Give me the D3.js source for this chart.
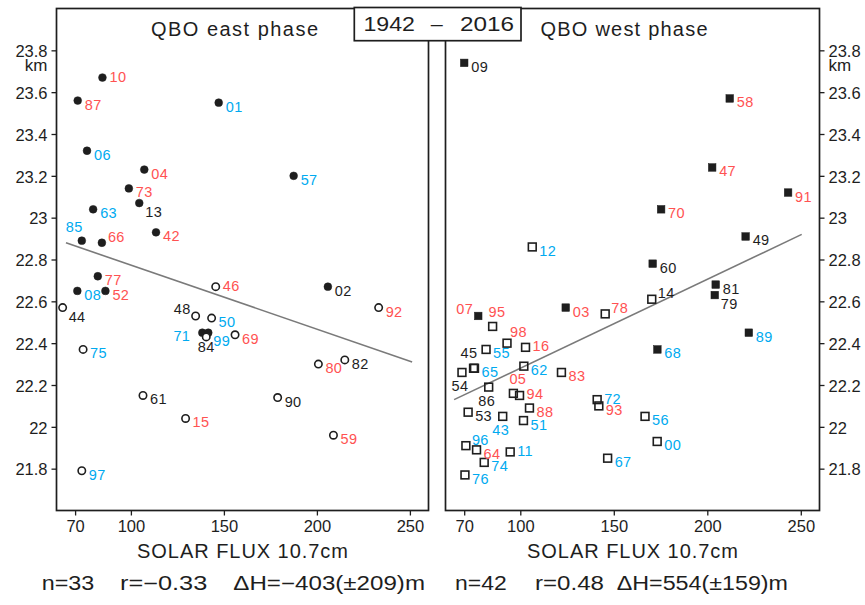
<!DOCTYPE html>
<html><head><meta charset="utf-8">
<script src="https://cdn.jsdelivr.net/npm/d3@7"></script>
<style>
body{margin:0;background:#fff}
svg{display:block;font-family:"Liberation Sans",Arial,Helvetica,sans-serif}
</style>
</head><body>
<svg id="c" width="865" height="605"></svg>
<script>
// ---------- data ----------
const xTicks = [70, 100, 150, 200, 250];
const xTickLabels = ["70", "100", "150", "200", "250"];
const yTicks = [21.8, 22.0, 22.2, 22.4, 22.6, 22.8, 23.0, 23.2, 23.4, 23.6, 23.8];
const yTickLabels = ["21.8", "22", "22.2", "22.4", "22.6", "22.8", "23", "23.2", "23.4", "23.6", "23.8"];

// QBO east phase (circles)
const eastYears  = ["10","87","01","06","04","57","73","13","63","42","85","66","77","08","52","02","71","84",
                    "46","44","92","48","50","99","69","75","80","82","61","15","90","59","97"];
const eastFlux   = [84.7,71.4,147.2,76.4,107.2,187.5,98.9,104.5,79.7,113.5,73.6,84.4,82.2,71.2,86.3,205.9,138.4,141.6,
                    145.6,63.3,233.2,134.8,143.4,140.5,156.0,74.3,200.8,215.0,106.5,129.4,178.9,208.9,73.6];
const eastHeight = [23.67,23.56,23.55,23.32,23.23,23.20,23.14,23.07,23.04,22.93,22.89,22.88,22.72,22.65,22.65,22.67,22.45,22.45,
                    22.67,22.57,22.57,22.53,22.52,22.43,22.44,22.37,22.30,22.32,22.15,22.04,22.14,21.96,21.79];
const eastFilled = [1,1,1,1,1,1,1,1,1,1,1,1,1,1,1,1,1,1,
                    0,0,0,0,0,0,0,0,0,0,0,0,0,0,0];
const eastGroup  = ["r","r","b","b","r","b","r","k","b","r","b","r","r","b","r","k","b","k",
                    "r","k","r","k","b","b","r","b","r","k","k","r","k","r","b"];
const eastPlace  = ["e","se","se","se","se","se","se","sse","se","se","nw","ne","se","se","se","se","sw","s",
                    "e","sse","se","w","se","se","se","se","se","se","se","se","se","se","se"];
const eastFit = [[65.1, 22.88], [251.2, 22.31]];
const eastStats = ["n=33", "r=\u22120.33", "\u0394H=\u2212403(\u00b1209)m"];

// QBO west phase (squares)
const westYears  = ["09","58","47","91","70","49","60","81","79","03","07","89","68",
                    "12","14","78","95","98","55","16","45","65","54","62","83","86","05","94","53","88","43","51","72","93","56","00","96","64","11","74","76","67"];
const westFlux   = [70.0,212.0,202.6,243.2,175.3,220.5,170.8,204.5,204.0,124.3,77.5,222.2,173.3,
                    106.4,170.3,145.4,85.2,92.9,81.7,102.8,75.0,75.5,68.8,101.9,122.0,83.1,96.3,99.6,72.1,104.9,90.6,101.7,141.1,142.0,166.7,173.2,70.9,76.6,94.6,80.7,70.4,146.7];
const westHeight = [23.74,23.57,23.24,23.12,23.04,22.91,22.78,22.68,22.63,22.57,22.53,22.45,22.37,
                    22.86,22.61,22.54,22.48,22.40,22.37,22.38,22.28,22.28,22.26,22.29,22.26,22.19,22.16,22.15,22.07,22.09,22.05,22.03,22.13,22.10,22.05,21.93,21.91,21.89,21.88,21.83,21.77,21.85];
const westFilled = [1,1,1,1,1,1,1,1,1,1,1,1,1,
                    0,0,0,0,0,0,0,0,0,0,0,0,0,0,0,0,0,0,0,0,0,0,0,0,0,0,0,0,0];
const westGroup  = ["k","r","r","r","r","k","k","k","k","r","r","b","b",
                    "b","k","r","r","r","b","r","k","b","k","b","r","k","r","r","k","r","b","b","b","r","b","b","b","r","b","b","b","b"];
const westPlace  = ["se","se","se","se","se","se","se","se","sse","se","w","se","se",
                    "se","ne","ne","n","nne","se","e","nw2","se","s","se","se","s","n","e","se","se","s","se","e","se","se","se","ne","se","e","se","se","se"];
const westFit = [[64.6, 22.13], [250.5, 22.92]];
const westStats = ["n=42", "r=0.48", "\u0394H=554(\u00b1159)m"];

const titleText = ["QBO east phase", "QBO west phase"];
const periodParts = ["1942", "\u2013", "2016"];
const xLabelText = "SOLAR FLUX 10.7cm";

// ---------- style ----------
const COLORS = { r: "#ff5252", b: "#00aaf0", k: "#1e1e1e" };
const PLACE = {
  se: [7, 9, "start"], e: [7, 4, "start"], ne: [6, -1, "start"], sse: [6, 14, "start"],
  nw: [1, -9, "end"], w: [-5, -2, "end"], sw: [-12, 8, "end"], s: [-2, 19, "middle"],
  n: [-4, -9, "start"], nne: [3, -6, "start"], nw2: [4, -10, "end"]
};
const INK = "#1e1e1e";

const svg = d3.select("#c");
const y = d3.scaleLinear().domain([21.6, 24.0]).range([510.5, 8.5]);
const xL = d3.scaleLinear().domain([60, 260]).range([56.5, 428.5]);
const xR = d3.scaleLinear().domain([60, 260]).range([445.5, 819.5]);

function panel(x, side, years, flux, height, filled, group, place, fit, stats, title, statPos, titleCx) {
  const g = svg.append("g");
  const [x0, x1] = x.range();
  const [yb, yt] = y.range();

  // x axis
  const ax = g.append("g").attr("transform", `translate(0,${yb})`)
    .call(d3.axisBottom(x).tickValues(xTicks).tickFormat((d, i) => xTickLabels[i]).tickSize(5).tickPadding(5));
  ax.select(".domain").remove();
  ax.selectAll("line").attr("stroke", INK).attr("stroke-width", 1.3);
  ax.selectAll("text").attr("font-size", 16.5).attr("fill", INK).attr("font-family", null);

  // y axis
  const yAxis = side === "left" ? d3.axisLeft(y) : d3.axisRight(y);
  const ay = g.append("g").attr("transform", `translate(${side === "left" ? x0 : x1},0)`)
    .call(yAxis.tickValues(yTicks).tickFormat((d, i) => yTickLabels[i]).tickSize(5).tickPadding(4));
  ay.select(".domain").remove();
  ay.selectAll("line").attr("stroke", INK).attr("stroke-width", 1.3);
  ay.selectAll("text").attr("font-size", 16.5).attr("fill", INK).attr("font-family", null).attr("dy", "0.38em");
  // km unit
  g.append("text")
    .attr("x", side === "left" ? x0 - 9 : x1 + 9)
    .attr("y", y(23.8) + 21)
    .attr("text-anchor", side === "left" ? "end" : "start")
    .attr("font-size", 17).attr("fill", INK).text("km");

  // frame
  g.append("rect").attr("x", x0).attr("y", yt).attr("width", x1 - x0).attr("height", yb - yt)
    .attr("fill", "none").attr("stroke", INK).attr("stroke-width", 1.7);

  // regression line
  g.append("line")
    .attr("x1", x(fit[0][0])).attr("y1", y(fit[0][1]))
    .attr("x2", x(fit[1][0])).attr("y2", y(fit[1][1]))
    .attr("stroke", "#7a7a7a").attr("stroke-width", 1.6);

  const idx = d3.range(years.length);
  // markers
  if (side === "left") {
    g.selectAll("circle.m").data(idx).join("circle")
      .attr("cx", i => x(flux[i])).attr("cy", i => y(height[i]))
      .attr("r", i => filled[i] ? 3.9 : 3.7)
      .attr("fill", i => filled[i] ? INK : "#fff")
      .attr("stroke", INK).attr("stroke-width", i => filled[i] ? 0.5 : 1.6);
  } else {
    g.selectAll("rect.m").data(idx).join("rect")
      .attr("x", i => x(flux[i]) - (filled[i] ? 3.8 : 3.9))
      .attr("y", i => y(height[i]) - (filled[i] ? 3.8 : 3.9))
      .attr("width", i => filled[i] ? 7.6 : 7.8)
      .attr("height", i => filled[i] ? 7.6 : 7.8)
      .attr("fill", i => filled[i] ? INK : "none")
      .attr("stroke", INK).attr("stroke-width", i => filled[i] ? 0.5 : 1.6);
  }
  // year labels
  g.selectAll("text.lab").data(idx).join("text")
    .attr("x", i => x(flux[i]) + PLACE[place[i]][0])
    .attr("y", i => y(height[i]) + PLACE[place[i]][1])
    .attr("text-anchor", i => PLACE[place[i]][2])
    .attr("font-size", 14.5).attr("letter-spacing", 0.4)
    .attr("fill", i => COLORS[group[i]])
    .text(i => years[i]);

  // title
  g.append("text").attr("x", titleCx).attr("y", 36).attr("text-anchor", "middle")
    .attr("font-size", 20).attr("fill", INK)
    .attr("textLength", 167).attr("lengthAdjust", "spacing").text(title);

  // x label
  g.append("text").attr("x", (x0 + x1) / 2).attr("y", 558).attr("text-anchor", "middle")
    .attr("font-size", 20).attr("fill", INK)
    .attr("textLength", 211).attr("lengthAdjust", "spacing").text(xLabelText);

  // stats
  stats.forEach((s, i) => {
    g.append("text").attr("x", statPos[i][0]).attr("y", 590)
      .attr("font-size", 19.5).attr("fill", INK)
      .attr("textLength", statPos[i][1]).attr("lengthAdjust", "spacingAndGlyphs").text(s);
  });
}

panel(xL, "left", eastYears, eastFlux, eastHeight, eastFilled, eastGroup, eastPlace, eastFit, eastStats,
      titleText[0], [[41.7, 52.6], [120, 87.3], [233.3, 191.7]], 234.5);
panel(xR, "right", westYears, westFlux, westHeight, westFilled, westGroup, westPlace, westFit, westStats,
      titleText[1], [[455, 51.7], [535, 69], [616.7, 171.3]], 624);

// period box
svg.append("rect").attr("x", 354.3).attr("y", 7.5).attr("width", 166.7).attr("height", 33.2)
  .attr("fill", "#fff").attr("stroke", INK).attr("stroke-width", 1.7);
const periodPos = [[363.5, 51.5], [430.7, 12], [460, 54]];
periodParts.forEach((p, i) => {
  svg.append("text").attr("x", periodPos[i][0]).attr("y", 31).attr("font-size", 21).attr("fill", INK)
    .attr("textLength", periodPos[i][1]).attr("lengthAdjust", "spacingAndGlyphs").text(p);
});
</script>
</body></html>
